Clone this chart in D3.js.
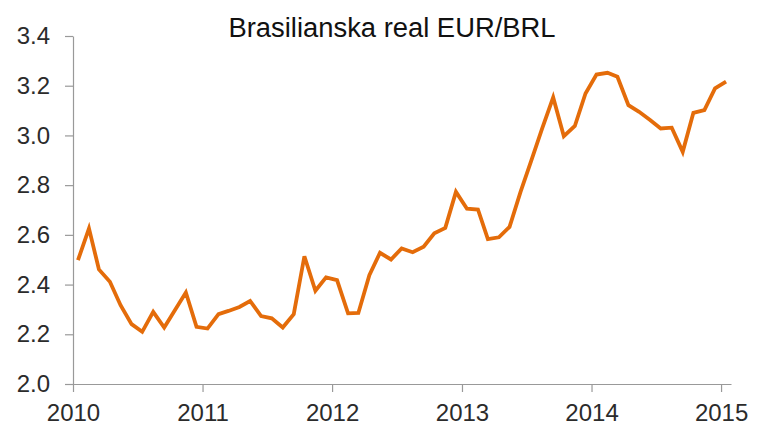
<!DOCTYPE html>
<html>
<head>
<meta charset="utf-8">
<script src="https://cdn.jsdelivr.net/npm/d3@7"></script>
<style>
  body { margin: 0; background: #fff; }
  text { font-family: 'Liberation Sans', Arial, sans-serif; }
</style>
</head>
<body>
<div id="chart"></div>
<script>
/* global d3 */

const title = 'Brasilianska real EUR/BRL'
const startMonth = '2010-01-15'
// monthly EUR/BRL, Jan 2010 .. Jan 2015
const values = [
  2.498, 2.626, 2.461, 2.411, 2.317, 2.241, 2.210, 2.290, 2.227, 2.297, 2.368, 2.230,
  2.223, 2.281, 2.294, 2.310, 2.334, 2.273, 2.264, 2.227, 2.281, 2.514, 2.375, 2.429,
  2.418, 2.284, 2.286, 2.438, 2.528, 2.501, 2.545, 2.530, 2.552, 2.606, 2.628, 2.773,
  2.705, 2.702, 2.583, 2.590, 2.632, 2.773, 2.898, 3.028, 3.153, 2.997, 3.038, 3.169,
  3.245, 3.252, 3.236, 3.122, 3.095, 3.062, 3.028, 3.031, 2.934, 3.091, 3.102, 3.189,
  3.216
]
const yTicks = [2.0, 2.2, 2.4, 2.6, 2.8, 3.0, 3.2, 3.4]
const xTicks = ['2010', '2011', '2012', '2013', '2014', '2015']

const width = 757
const height = 427
const margin = {top: 36, right: 26, bottom: 43, left: 73}

const parse = d3.timeParse('%Y-%m-%d')
const start = parse(startMonth)
const data = values.map((v, i) => ({date: d3.timeMonth.offset(start, i), value: v}))

const x = d3.scaleTime()
  .domain([parse('2010-01-01'), parse('2015-01-29')])
  .range([margin.left, width - margin.right])

const y = d3.scaleLinear()
  .domain([2.0, 3.4])
  .range([height - margin.bottom, margin.top])

const svg = d3.select('#chart')
  .append('svg')
  .attr('width', width)
  .attr('height', height)

svg.append('text')
  .attr('x', 392)
  .attr('y', 37)
  .attr('text-anchor', 'middle')
  .attr('font-size', 27)
  .attr('textLength', 327)
  .attr('lengthAdjust', 'spacingAndGlyphs')
  .attr('fill', '#111')
  .text(title)

const yAxis = svg.append('g')
  .attr('transform', `translate(${margin.left},0)`)
  .call(d3.axisLeft(y).tickValues(yTicks).tickFormat(d3.format('.1f')).tickSize(8).tickSizeOuter(0).tickPadding(15))

const xAxis = svg.append('g')
  .attr('transform', `translate(0,${height - margin.bottom})`)
  .call(d3.axisBottom(x)
    .tickValues(xTicks.map(t => d3.timeParse('%Y')(t)))
    .tickFormat(d3.timeFormat('%Y'))
    .tickSize(8).tickSizeOuter(0).tickPadding(12))

for (const ax of [xAxis, yAxis]) {
  ax.selectAll('path, line').attr('stroke', '#999').attr('stroke-width', 1.2)
  ax.selectAll('text')
    .attr('font-family', "'Liberation Sans', Arial, sans-serif")
    .attr('font-size', 24)
    .attr('fill', '#2b2b2b')
}

const line = d3.line()
  .x(d => x(d.date))
  .y(d => y(d.value))

svg.append('path')
  .datum(data)
  .attr('d', line)
  .attr('fill', 'none')
  .attr('stroke', '#e46c0a')
  .attr('stroke-width', 3.8)
  .attr('stroke-linejoin', 'miter')
</script>
</body>
</html>
